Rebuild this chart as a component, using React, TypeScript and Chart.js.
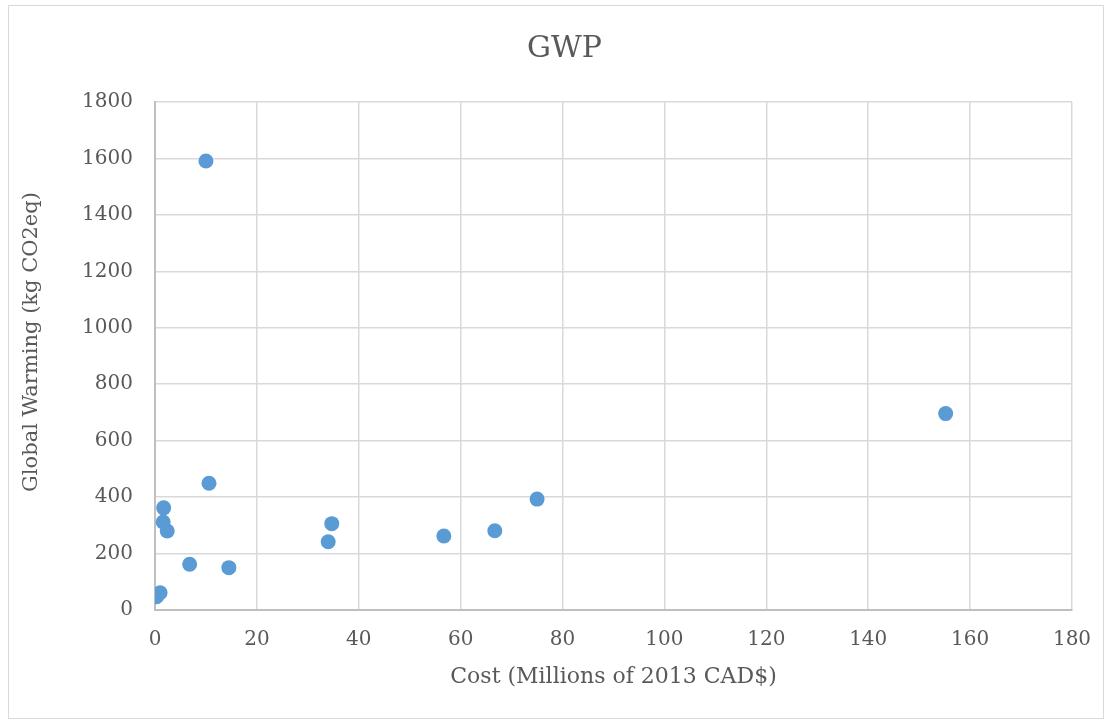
import React, { useEffect, useRef } from "react";
import { Chart, registerables } from "chart.js";

Chart.register(...registerables);

// Cost (millions of 2013 CAD$) and global warming potential (kg CO2eq)
const costValues = [0.3, 1.0, 1.7, 1.6, 2.4, 6.8, 14.5, 10.6, 10.0, 34.0, 34.7, 56.7, 66.7, 75.0, 155.2];
const gwpValues = [47, 61, 362, 312, 280, 162, 150, 449, 1591, 242, 306, 262, 281, 393, 696];

const chartTitle = "GWP";
const xAxisTitle = "Cost (Millions of 2013 CAD$)";
const yAxisTitle = "Global Warming (kg CO2eq)";

const FONT = "'DejaVu Serif', serif";
const TEXT = "#595959";
const GRID = "#d9d9d9";

// Draws the chart title and both axis titles around the plot area
const titlesPlugin = {
  id: "titles",
  afterDraw(chart: any) {
    const { ctx, chartArea } = chart;
    ctx.save();
    ctx.fillStyle = TEXT;
    ctx.textAlign = "center";
    ctx.textBaseline = "middle";

    ctx.font = `30px ${FONT}`;
    ctx.fillText(chartTitle, chart.width / 2 + 8.5, 43);

    ctx.font = `22px ${FONT}`;
    ctx.fillText(xAxisTitle, (chartArea.left + chartArea.right) / 2, chartArea.bottom + 67);

    ctx.font = `21px ${FONT}`;
    ctx.translate(chartArea.left - 123, (chartArea.top + chartArea.bottom) / 2 - 14);
    ctx.rotate(-Math.PI / 2);
    ctx.fillText(yAxisTitle, 0, 0);
    ctx.restore();
  },
};

export default function App() {
  const canvasRef = useRef<HTMLCanvasElement | null>(null);

  useEffect(() => {
    if (!canvasRef.current) return;
    const points = costValues.map((x, i) => ({ x, y: gwpValues[i] }));
    const chart = new Chart(canvasRef.current, {
      type: "scatter",
      data: {
        datasets: [
          {
            label: chartTitle,
            data: points,
            backgroundColor: "#5b9bd5",
            borderColor: "#5b9bd5",
            borderWidth: 0,
            pointRadius: 7.5,
            pointHoverRadius: 7.5,
          },
        ],
      },
      options: {
        responsive: false,
        maintainAspectRatio: false,
        animation: false,
        layout: { padding: { left: 0, right: 31, top: 96, bottom: 0 } },
        plugins: {
          legend: { display: false },
          tooltip: { enabled: false },
          title: { display: false },
        },
        scales: {
          x: {
            type: "linear",
            min: 0,
            max: 180,
            ticks: {
              stepSize: 20,
              color: TEXT,
              font: { family: FONT, size: 20 },
              padding: 18,
              callback: (v: any) => String(v),
            },
            grid: { color: GRID, lineWidth: 1.5, drawTicks: false },
            border: { color: "#bfbfbf", width: 2 },
            afterFit: (scale: any) => {
              scale.height = 108;
              scale.paddingLeft = 0;
              scale.paddingRight = 0;
            },
          },
          y: {
            type: "linear",
            min: 0,
            max: 1800,
            ticks: {
              stepSize: 200,
              color: TEXT,
              font: { family: FONT, size: 20 },
              padding: 22,
              callback: (v: any) => String(v),
            },
            grid: { color: GRID, lineWidth: 1.5, drawTicks: false },
            border: { color: "#bfbfbf", width: 2 },
            afterFit: (scale: any) => {
              scale.width = 146;
            },
          },
        },
      },
      plugins: [titlesPlugin],
    });
    return () => chart.destroy();
  }, []);

  return (
    <div
      style={{
        position: "absolute",
        left: 8,
        top: 5,
        width: 1096,
        height: 714,
        border: "1px solid #d9d9d9",
        boxSizing: "border-box",
        background: "#ffffff",
      }}
    >
      <canvas ref={canvasRef} width={1094} height={712} style={{ display: "block" }} />
    </div>
  );
}
